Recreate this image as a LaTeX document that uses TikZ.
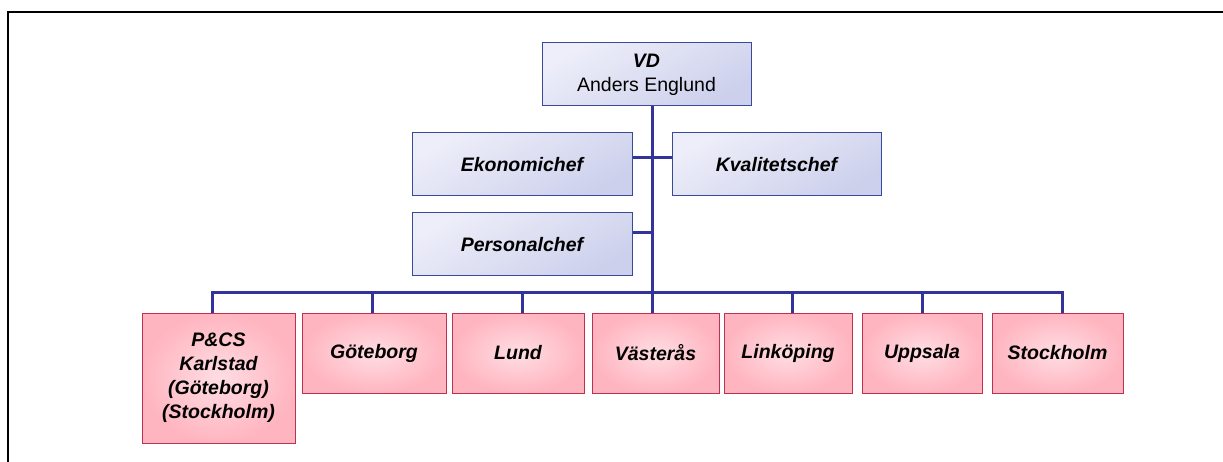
\documentclass[tikz,border=0pt]{standalone}
\usepackage{fontspec}
\setmainfont{Liberation Sans}
\definecolor{linkblue}{HTML}{333399}
\definecolor{bborder}{HTML}{3A4A9A}
\definecolor{blight}{HTML}{EDEEF9}
\definecolor{bdark}{HTML}{CDD0EC}
\definecolor{pborder}{HTML}{C0304F}
\definecolor{plight}{HTML}{FFDDE3}
\definecolor{pdark}{HTML}{FFB5C0}
\begin{document}
\begin{tikzpicture}[x=1pt,y=-1pt,
  every node/.style={font=\fontsize{19.5}{24}\selectfont\bfseries\itshape, inner sep=0pt, align=center},
  bluebox/.style={draw=bborder, line width=1pt, rectangle, minimum height=63pt,
    path picture={\shade[shading=axis, top color=blight, bottom color=bdark, shading angle=30]
      (path picture bounding box.south west) rectangle (path picture bounding box.north east);}},
  pinkbox/.style={draw=pborder, line width=1pt, rectangle, minimum height=80pt,
    path picture={\shade[shading=radial, inner color=plight, outer color=pdark]
      (path picture bounding box.south west) rectangle (path picture bounding box.north east);}},
  link/.style={draw=linkblue, line width=3pt}]
\useasboundingbox (0,0) rectangle (1223,462);
% outer frame
\draw[line width=2pt] (7.5,462) -- (7.5,12.5) -- (1223,12.5);
% nodes
\node[bluebox, minimum width=209pt] (vd) at (646.5,74.5) {VD\\{\normalfont\fontsize{19.5}{24}\selectfont Anders Englund}};
\node[bluebox, minimum width=220pt] (eko) at (522,164.5) {Ekonomichef};
\node[bluebox, minimum width=209pt] (kva) at (776.5,164.5) {Kvalitetschef};
\node[bluebox, minimum width=220pt] (per) at (522,244.5) {Personalchef};
\node[pinkbox, minimum width=153pt, minimum height=130pt] (pcs) at (218.5,378) {P\&CS\\Karlstad\\(Göteborg)\\(Stockholm)};
\node[pinkbox, minimum width=144pt] (got) at (374,353) {Göteborg};
\node[pinkbox, minimum width=132pt] (lun) at (518,353) {Lund};
\node[pinkbox, minimum width=127pt] (vas) at (655.5,353) {Västerås};
\node[pinkbox, minimum width=128pt] (lin) at (788,353) {Linköping};
\node[pinkbox, minimum width=120pt] (upp) at (922,353) {Uppsala};
\node[pinkbox, minimum width=131pt] (sto) at (1057.5,353) {Stockholm};
% coordinates
\coordinate (top) at (652,106);
\coordinate (bus) at (652,293);
\coordinate (j1) at (652,158);
\coordinate (j2) at (652,233);
\coordinate (s1) at (212,293);
\coordinate (s2) at (372,293);
\coordinate (s3) at (522,293);
\coordinate (s5) at (792,293);
\coordinate (s6) at (922,293);
\coordinate (s7) at (1062,293);
% connectors
\draw[link] (top) -- (bus) -- (bus |- vas.north);
\draw[link] (j1 -| eko.east) -- (j1 -| kva.west);
\draw[link] (j2 -| per.east) -- (j2);
\draw[link] (s1 |- pcs.north) -- (s1) -- (s7) -- (s7 |- sto.north);
\draw[link] (s2) -- (s2 |- got.north);
\draw[link] (s3) -- (s3 |- lun.north);
\draw[link] (s5) -- (s5 |- lin.north);
\draw[link] (s6) -- (s6 |- upp.north);
\end{tikzpicture}
\end{document}
